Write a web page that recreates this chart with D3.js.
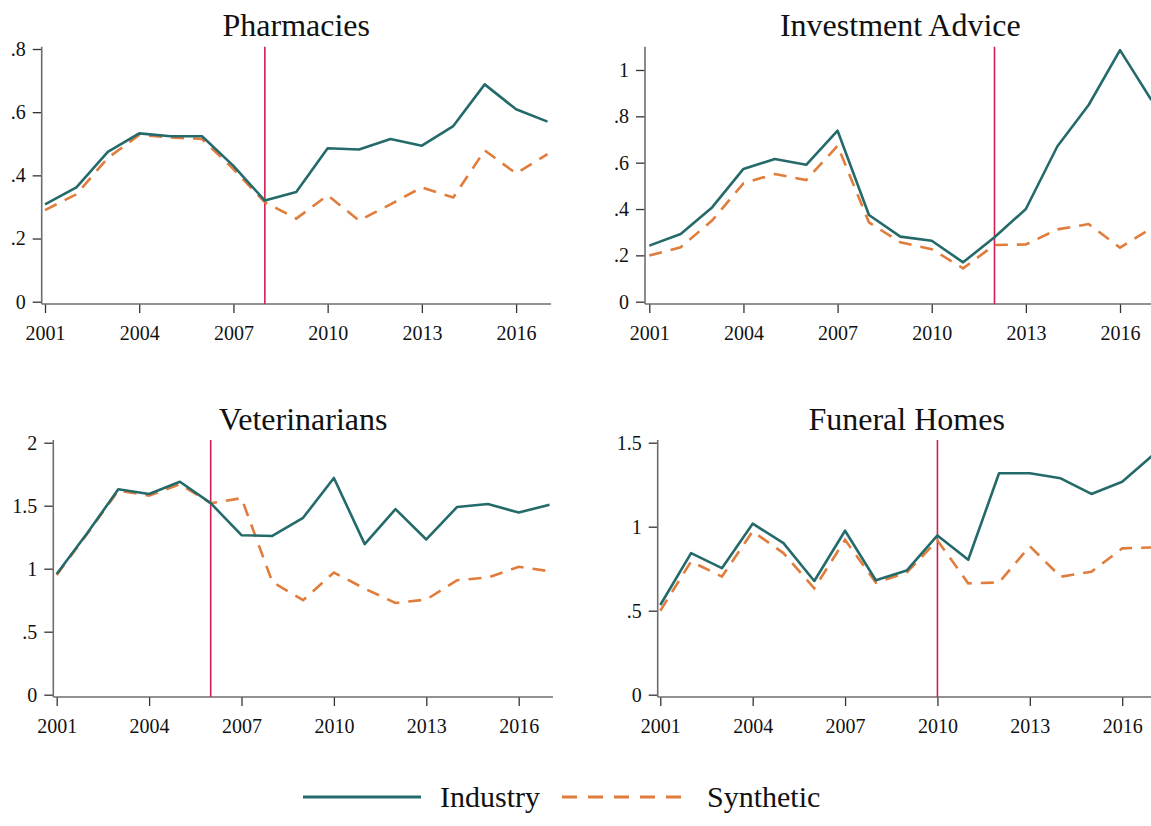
<!DOCTYPE html>
<html>
<head>
<meta charset="utf-8">
<script src="https://cdn.jsdelivr.net/npm/d3@7"></script>
<style>
  body { margin: 0; background: #fff; }
  svg { display: block; font-family: "Liberation Serif", "Times New Roman", serif; }
</style>
</head>
<body>
<svg width="1151" height="826"></svg>
<script>
var years = [2001, 2002, 2003, 2004, 2005, 2006, 2007, 2008, 2009, 2010, 2011, 2012, 2013, 2014, 2015, 2016, 2017];
var xTicks = [2001, 2004, 2007, 2010, 2013, 2016];

var pharmIndustry  = [0.308, 0.362, 0.474, 0.533, 0.524, 0.524, 0.430, 0.320, 0.347, 0.486, 0.482, 0.515, 0.494, 0.556, 0.688, 0.609, 0.570];
var pharmSynthetic = [0.290, 0.340, 0.455, 0.528, 0.520, 0.515, 0.420, 0.315, 0.263, 0.337, 0.257, 0.308, 0.362, 0.330, 0.479, 0.406, 0.467];

var investIndustry  = [0.242, 0.292, 0.407, 0.573, 0.616, 0.591, 0.738, 0.374, 0.281, 0.263, 0.170, 0.278, 0.400, 0.670, 0.849, 1.086, 0.870];
var investSynthetic = [0.199, 0.235, 0.350, 0.511, 0.551, 0.525, 0.673, 0.342, 0.256, 0.227, 0.144, 0.245, 0.247, 0.312, 0.335, 0.233, 0.317];

var vetIndustry  = [0.958, 1.285, 1.630, 1.593, 1.690, 1.520, 1.266, 1.260, 1.404, 1.720, 1.195, 1.473, 1.232, 1.490, 1.513, 1.446, 1.507];
var vetSynthetic = [0.950, 1.280, 1.620, 1.580, 1.670, 1.520, 1.560, 0.895, 0.750, 0.970, 0.842, 0.728, 0.755, 0.909, 0.930, 1.015, 0.980];

var funeralIndustry  = [0.534, 0.843, 0.753, 1.018, 0.902, 0.677, 0.976, 0.681, 0.739, 0.948, 0.803, 1.318, 1.318, 1.288, 1.195, 1.268, 1.427];
var funeralSynthetic = [0.500, 0.793, 0.703, 0.972, 0.843, 0.633, 0.922, 0.667, 0.727, 0.918, 0.663, 0.668, 0.884, 0.702, 0.732, 0.871, 0.877];

var titles = ["Pharmacies", "Investment Advice", "Veterinarians", "Funeral Homes"];
var treatYears = [2008, 2012, 2006, 2010];
var yMax = [0.8, 1, 2, 1.5];
var yTicks = [
    [0, 0.2, 0.4, 0.6, 0.8],
    [0, 0.2, 0.4, 0.6, 0.8, 1],
    [0, 0.5, 1, 1.5, 2],
    [0, 0.5, 1, 1.5]
];
var industrySeries = [pharmIndustry, investIndustry, vetIndustry, funeralIndustry];
var syntheticSeries = [pharmSynthetic, investSynthetic, vetSynthetic, funeralSynthetic];
var legendLabels = ["Industry", "Synthetic"];

// pixel layout of each panel
var layout = [
    {axisX: 41.7, x0: 45, x1: 547.5, top: 46.7, zeroY: 301.7, maxY: 49, baseY: 304, titleY: 36},
    {axisX: 645, x0: 649.3, x1: 1151.4, top: 46.7, zeroY: 301.7, maxY: 70, baseY: 304, titleY: 36},
    {axisX: 53.3, x0: 56.7, x1: 549.5, top: 440, zeroY: 694.7, maxY: 442.7, baseY: 697, titleY: 429.5},
    {axisX: 657.7, x0: 660.3, x1: 1153, top: 440, zeroY: 694.7, maxY: 442.7, baseY: 697, titleY: 429.5}
];

var teal = "#256a6a";
var orange = "#e07d3c";
var red = "#d11f55";
var axisGray = "#6e6e6e";
var dash = "13,9";

var svg = d3.select("svg");

function fmt(d) {
    return String(d).replace(/^0\./, ".");
}

function drawPanel(i) {
    var L = layout[i];
    var x = d3.scaleLinear().domain([2001, 2017]).range([L.x0, L.x1]);
    var y = d3.scaleLinear().domain([0, yMax[i]]).range([L.zeroY, L.maxY]);
    var g = svg.append("g");

    // axes
    var yAxis = g.append("g")
        .attr("transform", "translate(" + L.axisX + ",0)")
        .call(d3.axisLeft(y).tickValues(yTicks[i]).tickFormat(fmt).tickSize(9).tickPadding(7));
    var xAxis = g.append("g")
        .attr("transform", "translate(0," + L.baseY + ")")
        .call(d3.axisBottom(x).tickValues(xTicks).tickFormat(d3.format("d")).tickSize(9).tickPadding(13));

    [yAxis, xAxis].forEach(function(a) {
        a.attr("font-family", null);
        a.select(".domain").remove();
        a.selectAll("line").attr("stroke", "#333").attr("stroke-width", 1.3);
        a.selectAll("text").attr("fill", "#111").style("font-size", "20px");
    });

    g.append("line")
        .attr("x1", L.axisX).attr("x2", L.axisX)
        .attr("y1", L.top).attr("y2", L.baseY)
        .attr("stroke", axisGray).attr("stroke-width", 1.6);
    g.append("line")
        .attr("x1", L.axisX).attr("x2", L.x1 + 3.5)
        .attr("y1", L.baseY).attr("y2", L.baseY)
        .attr("stroke", axisGray).attr("stroke-width", 1.6);

    // treatment year marker
    g.append("line")
        .attr("x1", x(treatYears[i])).attr("x2", x(treatYears[i]))
        .attr("y1", L.top).attr("y2", L.baseY)
        .attr("stroke", red).attr("stroke-width", 1.6);

    var line = d3.line()
        .x(function(d, j) { return x(years[j]); })
        .y(function(d) { return y(d); });

    g.append("path")
        .datum(syntheticSeries[i])
        .attr("d", line)
        .attr("fill", "none")
        .attr("stroke", orange)
        .attr("stroke-width", 2.6)
        .attr("stroke-dasharray", dash);

    g.append("path")
        .datum(industrySeries[i])
        .attr("d", line)
        .attr("fill", "none")
        .attr("stroke", teal)
        .attr("stroke-width", 2.6)
        .attr("stroke-linejoin", "round");

    g.append("text")
        .attr("x", (L.x0 + L.x1) / 2)
        .attr("y", L.titleY)
        .attr("text-anchor", "middle")
        .style("font-size", "32px")
        .attr("fill", "#111")
        .text(titles[i]);
}

for (var i = 0; i < 4; i++) {
    drawPanel(i);
}

// legend
var legend = svg.append("g");
legend.append("line")
    .attr("x1", 303).attr("x2", 421).attr("y1", 797).attr("y2", 797)
    .attr("stroke", teal).attr("stroke-width", 3);
legend.append("text")
    .attr("x", 440).attr("y", 807)
    .style("font-size", "30px").attr("fill", "#111")
    .text(legendLabels[0]);
legend.append("line")
    .attr("x1", 562).attr("x2", 692).attr("y1", 797).attr("y2", 797)
    .attr("stroke", orange).attr("stroke-width", 3)
    .attr("stroke-dasharray", "15,11");
legend.append("text")
    .attr("x", 707).attr("y", 807)
    .style("font-size", "30px").attr("fill", "#111")
    .text(legendLabels[1]);
</script>
</body>
</html>
